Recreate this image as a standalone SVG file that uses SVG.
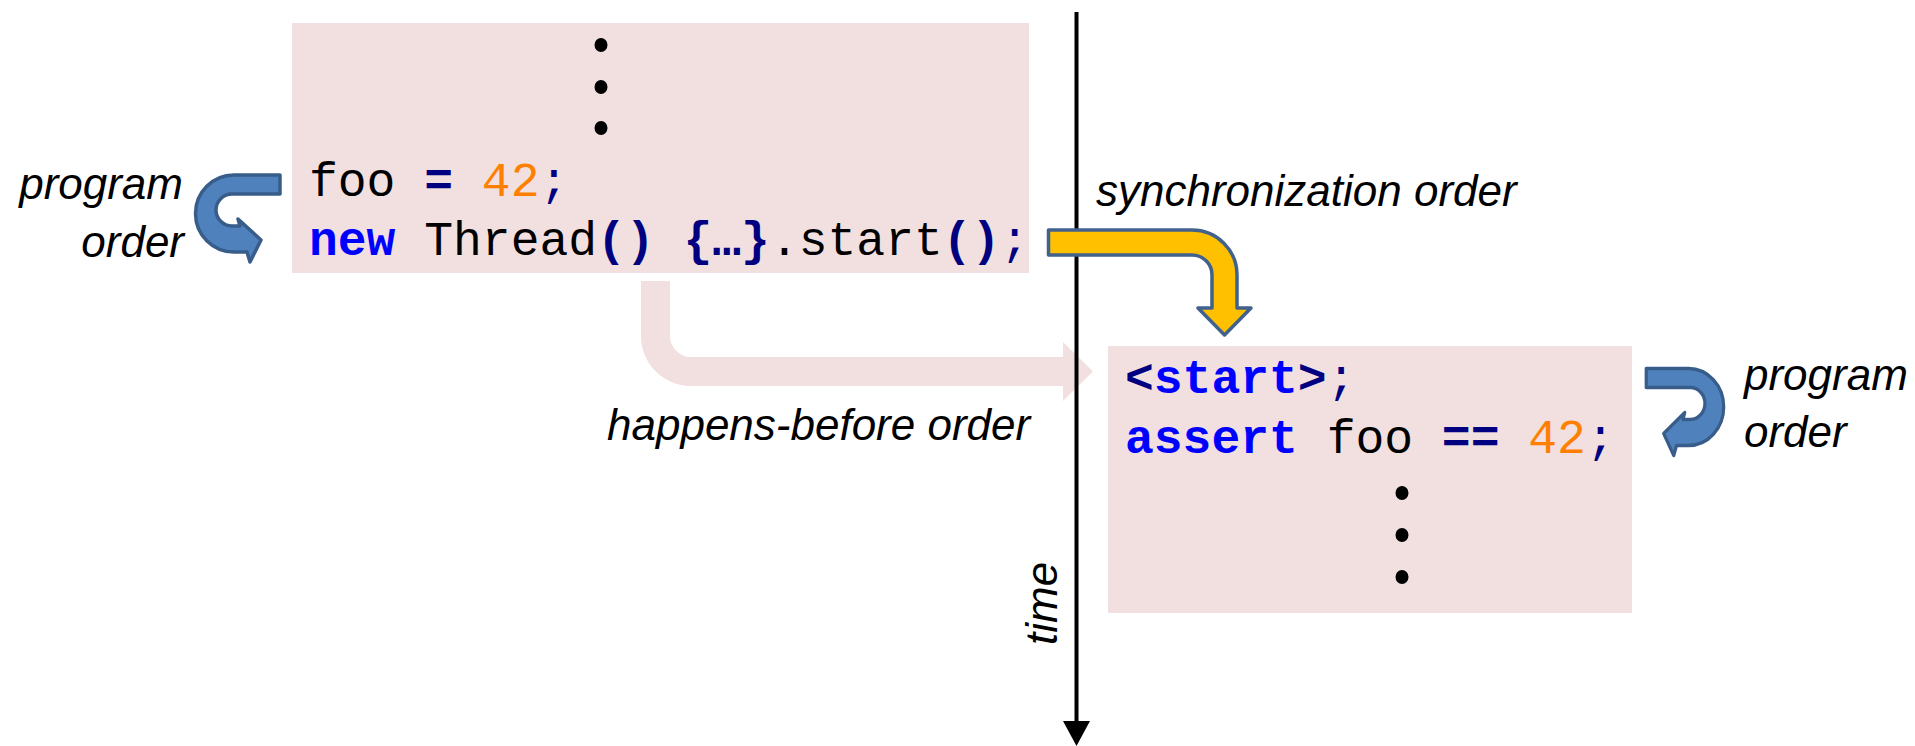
<svg xmlns="http://www.w3.org/2000/svg" xmlns:xlink="http://www.w3.org/1999/xlink" width="1915" height="746" viewBox="0 0 1915 746">
  <style>
    .box { fill: #F2E0E0; }
    .code { font-family: "Liberation Mono", "Courier New", monospace; font-size: 48px; fill: #000000; }
    .kw { font-weight: bold; fill: #0000FF; }
    .op { font-weight: bold; fill: #000080; }
    .punc { fill: #000080; }
    .num { fill: #FF8000; }
    .dot { fill: #000000; }
    .label { font-family: "Liberation Sans", Arial, sans-serif; font-style: italic; font-size: 44px; fill: #000000; }
    .hb { fill: #F2E0E0; }
    .sync { fill: #FFC000; stroke: #41628C; stroke-width: 3.5; stroke-linejoin: round; }
    .po { fill: #4F81BD; stroke: #385D8A; stroke-width: 3.5; stroke-linejoin: round; }
  </style>
  <defs>
    <!-- U-turn arrow used for "program order" -->
    <path id="uturn" class="po" d="M 280,175 L 280,194 L 232,194 A 16,16 0 0 0 232,226 L 240,226 L 238,219 L 261,240 L 250,262 L 247,252 L 234,252 A 38.5,38.5 0 0 1 234,175 Z"/>
  </defs>

  <rect width="1915" height="746" fill="#FFFFFF"/>

  <!-- Main thread code -->
  <g id="main-thread">
    <rect class="box" x="292" y="23" width="737" height="250"/>
    <ellipse class="dot" cx="601" cy="45" rx="6.5" ry="7"/>
    <ellipse class="dot" cx="601" cy="87" rx="6.5" ry="7"/>
    <ellipse class="dot" cx="601" cy="128" rx="6.5" ry="7"/>
    <text class="code" x="309" y="196">foo <tspan class="op">=</tspan> <tspan class="num">42</tspan><tspan class="punc">;</tspan></text>
    <text class="code" x="309" y="255"><tspan class="kw">new</tspan> Thread<tspan class="op">()</tspan> <tspan class="op">{…}</tspan>.start<tspan class="op">()</tspan><tspan class="punc">;</tspan></text>
  </g>

  <!-- Started thread code -->
  <g id="new-thread">
    <rect class="box" x="1108" y="346" width="524" height="267"/>
    <text class="code" x="1125" y="393"><tspan class="op">&lt;</tspan><tspan class="kw">start</tspan><tspan class="op">&gt;</tspan><tspan class="punc">;</tspan></text>
    <text class="code" x="1125" y="453"><tspan class="kw">assert</tspan> foo <tspan class="op">==</tspan> <tspan class="num">42</tspan><tspan class="punc">;</tspan></text>
    <ellipse class="dot" cx="1402" cy="493" rx="6.5" ry="7"/>
    <ellipse class="dot" cx="1402" cy="535" rx="6.5" ry="7"/>
    <ellipse class="dot" cx="1402" cy="577" rx="6.5" ry="7"/>
  </g>

  <g id="connectors">
    <!-- happens-before -->
    <path class="hb" d="M 641,281 L 670,281 L 670,336 A 21,21 0 0 0 691,357 L 1063,357 L 1063,342 L 1093,371.5 L 1063,401 L 1063,386 L 691,386 A 50,50 0 0 1 641,336 Z"/>

    <!-- time axis -->
    <g id="time-axis">
      <line x1="1076.5" y1="12" x2="1076.5" y2="724" stroke="#000000" stroke-width="4"/>
      <polygon points="1063,721 1090,721 1076.5,746" fill="#000000"/>
    </g>

    <!-- synchronization order -->
    <path class="sync" d="M 1048.5,230 L 1192,230 A 45,45 0 0 1 1237,275 L 1237,308 L 1251,308 L 1224.5,335 L 1198,308 L 1212,308 L 1212,275 A 20,20 0 0 0 1192,255 L 1048.5,255 Z"/>

    <!-- program order, both threads -->
    <use xlink:href="#uturn" href="#uturn"/>
    <use xlink:href="#uturn" href="#uturn" transform="matrix(-0.917 0 0 1 1903 193.5)"/>
  </g>

  <g id="labels">
    <text class="label" x="183" y="199" text-anchor="end">program</text>
    <text class="label" x="184" y="257" text-anchor="end">order</text>
    <text class="label" x="1096" y="206">synchronization order</text>
    <text class="label" x="607" y="440">happens-before order</text>
    <text class="label" transform="translate(1057,645) rotate(-90)">time</text>
    <text class="label" x="1744" y="390">program</text>
    <text class="label" x="1744" y="447">order</text>
  </g>
</svg>
